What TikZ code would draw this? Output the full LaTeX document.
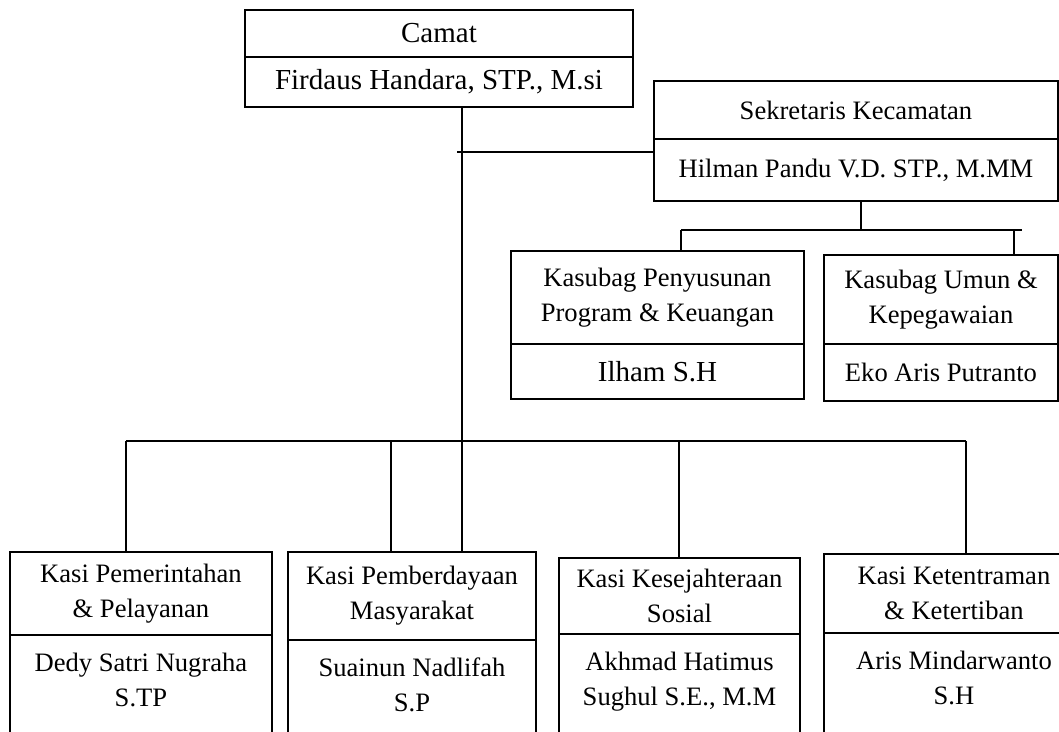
\documentclass[tikz,border=0pt]{standalone}
\usepackage{fontspec}
\setmainfont{Liberation Serif}
\begin{document}
\begin{tikzpicture}[x=0.4138pt,y=-0.4138pt]
  \tikzset{box/.style={draw,line width=0.8pt,inner sep=0pt,anchor=north west,align=center,font=\fontsize{11}{14.5}\selectfont},
    big/.style={font=\fontsize{12}{14.5}\selectfont},
    boxsize/.style 2 args={minimum width=#1*0.4138pt,minimum height=#2*0.4138pt},
    cut/.style={inner ysep=7.4pt,text depth=20pt},
    link/.style={line width=0.6pt}}
  \useasboundingbox (0,0) rectangle (1059,731);

  % Camat dan sekretaris
  \node[box,big,boxsize={388}{47}] (camat) at (244,9) {Camat};
  \node[box,big,boxsize={388}{50}] (camatNama) at (244,56) {Firdaus Handara, STP., M.si};
  \node[box,boxsize={404}{58}] (sekcam) at (653,80) {Sekretaris Kecamatan};
  \node[box,boxsize={404}{62}] (sekcamNama) at (653,138) {Hilman Pandu V.D. STP., M.MM};

  % Kasubag
  \node[box,boxsize={293}{93}] (kasubagPK) at (510,250) {Kasubag Penyusunan\\Program \& Keuangan};
  \node[box,big,boxsize={293}{55}] (kasubagPKNama) at (510,343) {Ilham S.H};
  \node[box,boxsize={234}{89}] (kasubagUK) at (823,254) {Kasubag Umun \&\\Kepegawaian};
  \node[box,boxsize={234}{57}] (kasubagUKNama) at (823,343) {Eko Aris Putranto};

  % Kasi
  \node[box,boxsize={262}{83}] (kasiA) at (9,551) {Kasi Pemerintahan\\\& Pelayanan};
  \node[box,cut,boxsize={262}{0}] (kasiANama) at (9,634) {Dedy Satri Nugraha\\S.TP};
  \node[box,boxsize={248}{88}] (kasiB) at (287,551) {Kasi Pemberdayaan\\Masyarakat};
  \node[box,cut,boxsize={248}{0}] (kasiBNama) at (287,639) {Suainun Nadlifah\\S.P};
  \node[box,boxsize={241}{76}] (kasiC) at (558,557) {Kasi Kesejahteraan\\Sosial};
  \node[box,cut,boxsize={241}{0}] (kasiCNama) at (558,633) {Akhmad Hatimus\\Sughul S.E., M.M};
  \node[box,boxsize={260}{79}] (kasiD) at (823,553) {Kasi Ketentraman\\\& Ketertiban};
  \node[box,cut,boxsize={260}{0}] (kasiDNama) at (823,632) {Aris Mindarwanto\\S.H};

  % garis
  \coordinate (sekJoin) at (457,152);
  \coordinate (trunk) at (462,441);
  \coordinate (subW) at (681,230);
  \coordinate (subMid) at (861,230);
  \coordinate (subDrop) at (1014,230);
  \coordinate (subE) at (1022,230);
  \coordinate (busW) at (126,441);
  \coordinate (busE) at (966,441);
  \draw[link] (camatNama.south -| trunk) -- (kasiB.north -| trunk);
  \draw[link] (sekJoin) -- (sekJoin -| sekcamNama.west);
  \draw[link] (sekcamNama.south -| subMid) -- (subMid);
  \draw[link] (subW) -- (subE);
  \draw[link] (subW) -- (subW |- kasubagPK.north);
  \draw[link] (subDrop) -- (subDrop |- kasubagUK.north);
  \draw[link] (busW) -- (busE);
  \foreach \x/\n in {126/kasiA,391/kasiB,679/kasiC,966/kasiD}
    \draw[link] (\x,441) -- (\x,441 |- \n.north);
\end{tikzpicture}
\end{document}
